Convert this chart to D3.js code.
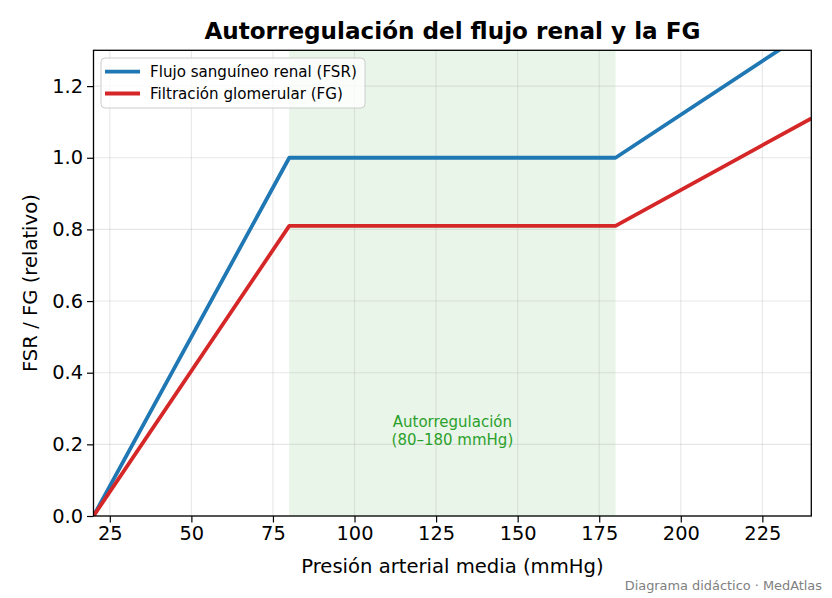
<!DOCTYPE html>
<html><head><meta charset="utf-8">
<script src="https://cdn.jsdelivr.net/npm/d3@7"></script>
<style>body{margin:0;background:#fff}svg{display:block;font-family:"DejaVu Sans",sans-serif}</style>
</head><body><svg id="c" width="832" height="598"></svg>
<script>
const pressure = [20, 80, 180, 240];
const fsr = [0, 1.0, 1.0, 1.36];
const fg = [0, 0.81, 0.81, 1.11];
const seriesNames = ["Flujo sanguíneo renal (FSR)", "Filtración glomerular (FG)"];
const seriesColors = ["#1f77b4", "#d62728"];
const xTicks = [25, 50, 75, 100, 125, 150, 175, 200, 225];
const yTicks = [0, 0.2, 0.4, 0.6, 0.8, 1.0, 1.2];
const band = [80, 180];
const bandLabel = ["Autorregulación", "(80–180 mmHg)"];

const svg = d3.select("#c");
const L = 93.5, R = 811.3, T = 50.3, B = 516;
const x = d3.scaleLinear().domain([20, 240]).range([L, R]);
const y = d3.scaleLinear().domain([0, 1.3]).range([B, T]);

svg.append("defs").append("clipPath").attr("id","clip")
  .append("rect").attr("x",L).attr("y",T).attr("width",R-L).attr("height",B-T);

// band
svg.append("rect").attr("x", x(band[0])).attr("y", T)
  .attr("width", x(band[1]) - x(band[0])).attr("height", B - T)
  .attr("fill", "#2ca02c").attr("fill-opacity", 0.1);

// grid
const g = svg.append("g");
xTicks.forEach(t => g.append("line").attr("x1", x(t)).attr("x2", x(t)).attr("y1", T).attr("y2", B)
  .attr("stroke", "#b0b0b0").attr("stroke-opacity", 0.3).attr("stroke-width", 1.1));
yTicks.forEach(t => g.append("line").attr("x1", L).attr("x2", R).attr("y1", y(t)).attr("y2", y(t))
  .attr("stroke", "#b0b0b0").attr("stroke-opacity", 0.3).attr("stroke-width", 1.1));

// band label
const ann = svg.append("text").attr("x", x(130)).attr("text-anchor", "middle")
  .attr("fill", "#2ca02c").attr("font-size", 15);
ann.append("tspan").attr("x", x(130)).attr("y", y(0.24) - 3.5).text(bandLabel[0]);
ann.append("tspan").attr("x", x(130)).attr("y", y(0.24) + 14.5).text(bandLabel[1]);

// lines
const line = d3.line().x(d => x(d[0])).y(d => y(d[1]));
[fsr, fg].forEach((s, i) => {
  svg.append("path").attr("clip-path","url(#clip)")
    .datum(pressure.map((p, j) => [p, s[j]]))
    .attr("d", line).attr("fill", "none").attr("stroke", seriesColors[i])
    .attr("stroke-width", 3.8).attr("stroke-linejoin", "round").attr("stroke-linecap", "butt");
});

// axes
const xa = svg.append("g").attr("transform", `translate(0,${B})`)
  .call(d3.axisBottom(x).tickValues(xTicks).tickSize(6.5).tickPadding(4).tickFormat(d3.format("d")));
const ya = svg.append("g").attr("transform", `translate(${L},0)`)
  .call(d3.axisLeft(y).tickValues(yTicks).tickSize(6.5).tickPadding(4).tickFormat(d3.format(".1f")));
[xa, ya].forEach(a => {
  a.select(".domain").remove();
  a.selectAll("text").attr("font-size", 19.4).attr("fill", "#000").attr("font-family", "DejaVu Sans");
  a.selectAll("line").attr("stroke", "#000").attr("stroke-width", 1.2);
});
svg.append("rect").attr("x", L).attr("y", T).attr("width", R - L).attr("height", B - T)
  .attr("fill", "none").attr("stroke", "#000").attr("stroke-width", 1.3);

// labels
svg.append("text").attr("x", (L + R) / 2).attr("y", 573).attr("text-anchor", "middle")
  .attr("font-size", 19.6).text("Presión arterial media (mmHg)");
svg.append("text").attr("transform", `translate(37,${(T + B) / 2}) rotate(-90)`)
  .attr("text-anchor", "middle").attr("font-size", 19.6).text("FSR / FG (relativo)");
svg.append("text").attr("x", (L + R) / 2).attr("y", 39).attr("text-anchor", "middle")
  .attr("font-size", 23.1).attr("font-weight", "bold").text("Autorregulación del flujo renal y la FG");
svg.append("text").attr("x", 822).attr("y", 590).attr("text-anchor", "end")
  .attr("font-size", 12.9).attr("fill", "#808080").text("Diagrama didáctico · MedAtlas");

// legend
const lg = svg.append("g");
lg.append("rect").attr("x", 101).attr("y", 58).attr("width", 264).attr("height", 50)
  .attr("rx", 4).attr("fill", "#fff").attr("fill-opacity", 0.8).attr("stroke", "#cccccc").attr("stroke-width", 1);
seriesNames.forEach((n, i) => {
  const yy = 71.7 + i * 21.8;
  lg.append("line").attr("x1", 105).attr("x2", 140).attr("y1", yy).attr("y2", yy)
    .attr("stroke", seriesColors[i]).attr("stroke-width", 3.8);
  lg.append("text").attr("x", 150).attr("y", yy + 5.3).attr("font-size", 15.1).text(n);
});
</script></body></html>
